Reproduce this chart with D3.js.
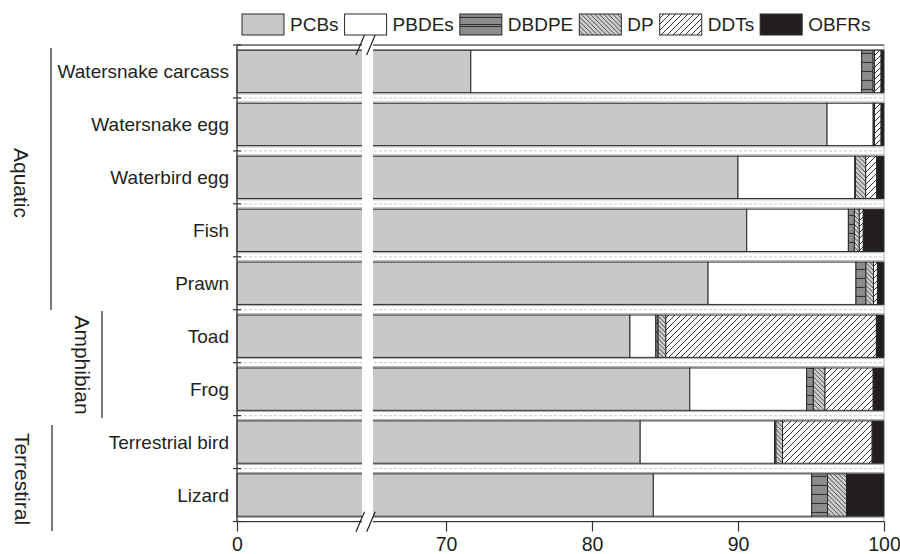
<!DOCTYPE html>
<html>
<head>
<meta charset="utf-8">
<script src="https://cdn.jsdelivr.net/npm/d3@7"></script>
<style>
  body { margin: 0; background: #fff; }
  svg { display: block; font-family: "Liberation Sans", Arial, sans-serif; }
</style>
</head>
<body>
<div class="stage"></div>
<script>
// chart size
var width = 900;
var height = 554;

// data (percent of total)
var categories = ['Watersnake carcass', 'Watersnake egg', 'Waterbird egg', 'Fish', 'Prawn',
                  'Toad', 'Frog', 'Terrestrial bird', 'Lizard'];
var keys   = ['PCBs', 'PBDEs', 'DBDPE', 'DP', 'DDTs', 'OBFRs'];
var pcbs   = [71.7, 96.1, 90.0, 90.6, 87.95, 82.6, 86.7, 83.3, 84.2];
var pbdes  = [26.77, 3.16, 8.0, 6.96, 10.13, 1.77, 8.0, 9.2, 10.85];
var dbdpe  = [0.78, 0.04, 0.05, 0.41, 0.68, 0.16, 0.46, 0.1, 1.08];
var dp     = [0.1, 0.05, 0.7, 0.34, 0.52, 0.53, 0.8, 0.45, 1.3];
var ddts   = [0.45, 0.45, 0.75, 0.27, 0.27, 14.42, 3.3, 6.14, 0];
var obfrs  = [0.2, 0.2, 0.5, 1.42, 0.45, 0.52, 0.73, 0.8, 2.57];
var xTicks = [0, 70, 80, 90, 100];
var groups = [
  {name: 'Aquatic',     lineX: 51,  textX: 14, textY: 183, y0: 48,  y1: 310},
  {name: 'Amphibian',   lineX: 102, textX: 75, textY: 365, y0: 311, y1: 418},
  {name: 'Terrestiral', lineX: 52,  textX: 15, textY: 479, y0: 425, y1: 531}
];

var rows = categories.map(function(c, i) {
  return {cat: c, PCBs: pcbs[i], PBDEs: pbdes[i], DBDPE: dbdpe[i], DP: dp[i], DDTs: ddts[i], OBFRs: obfrs[i]};
});

// broken axis: 0..65 squeezed on the left, 65..100 on the right
var x = d3.scaleLinear()
  .domain([0, 65, 65, 100])
  .range([237, 362, 373, 884]);

var y = d3.scaleBand()
  .domain(categories)
  .range([45, 521.5])
  .paddingInner(0.2)
  .paddingOuter(0.1);

var svg = d3.select('.stage')
  .append('svg')
  .attr('width', width)
  .attr('height', height);

// patterns
var defs = svg.append('defs');
var pDb = defs.append('pattern').attr('id', 'pat-dbdpe')
  .attr('patternUnits', 'userSpaceOnUse').attr('width', 8).attr('height', 9);
pDb.append('rect').attr('width', 8).attr('height', 9).attr('fill', '#8c8c8c');
pDb.append('line').attr('x1', 0).attr('x2', 8).attr('y1', 8.5).attr('y2', 8.5)
  .attr('stroke', '#333').attr('stroke-width', 1.2);

var pDp = defs.append('pattern').attr('id', 'pat-dp')
  .attr('patternUnits', 'userSpaceOnUse').attr('width', 4.5).attr('height', 4.5);
pDp.append('rect').attr('width', 4.5).attr('height', 4.5).attr('fill', '#d0d0d0');
pDp.append('path').attr('d', 'M-1,-1L5.5,5.5M-1,3.5L1,5.5M3.5,-1L5.5,1')
  .attr('stroke', '#333').attr('stroke-width', 0.9);

var pDdt = defs.append('pattern').attr('id', 'pat-ddt')
  .attr('patternUnits', 'userSpaceOnUse').attr('width', 6).attr('height', 6);
pDdt.append('rect').attr('width', 6).attr('height', 6).attr('fill', '#fff');
pDdt.append('path').attr('d', 'M-1,7L7,-1M-1,1L1,-1M5,7L7,5')
  .attr('stroke', '#333').attr('stroke-width', 1);

var fills = {
  PCBs: '#c8c8c9',
  PBDEs: '#ffffff',
  DBDPE: 'url(#pat-dbdpe)',
  DP: 'url(#pat-dp)',
  DDTs: 'url(#pat-ddt)',
  OBFRs: '#231f20'
};

// separator strips between the rows
var step = y.step();
var bounds = d3.range(categories.length + 1).map(function(i) { return 45 + i * step; });
svg.append('g').selectAll('rect')
  .data(bounds)
  .enter()
  .append('rect')
  .attr('x', 237)
  .attr('y', function(d, i) { return i === 0 ? 45 : d - 4; })
  .attr('width', 884 - 237)
  .attr('height', function(d, i) { return (i === 0 || i === bounds.length - 1) ? 4.5 : 8; })
  .attr('fill', '#fff')
  .attr('stroke', '#9a9a9a')
  .attr('stroke-width', 0.8);
svg.append('g').selectAll('line')
  .data(bounds.slice(1, -1))
  .enter()
  .append('line')
  .attr('x1', 239).attr('x2', 882)
  .attr('y1', function(d) { return d; })
  .attr('y2', function(d) { return d; })
  .attr('stroke', '#d4d4d4')
  .attr('stroke-width', 1.2)
  .attr('stroke-dasharray', '3,2');

// stacked bars
var series = d3.stack().keys(keys)(rows);
svg.append('g').selectAll('g')
  .data(series)
  .enter()
  .append('g')
  .attr('fill', function(d) { return fills[d.key]; })
  .selectAll('rect')
  .data(function(d) { return d.filter(function(s) { return s[1] - s[0] > 0; }); })
  .enter()
  .append('rect')
  .attr('x', function(d) { return x(d[0]); })
  .attr('y', function(d) { return y(d.data.cat); })
  .attr('width', function(d) { return x(d[1]) - x(d[0]); })
  .attr('height', y.bandwidth())
  .attr('stroke', '#2a2a2a')
  .attr('stroke-width', 1);

// frame lines
svg.append('line').attr('x1', 237).attr('x2', 884).attr('y1', 45).attr('y2', 45)
  .attr('stroke', '#333').attr('stroke-width', 1.2);
svg.append('line').attr('x1', 237).attr('x2', 237).attr('y1', 45).attr('y2', 521.5)
  .attr('stroke', '#333').attr('stroke-width', 1.2);
svg.append('line').attr('x1', 237).attr('x2', 884).attr('y1', 521.5).attr('y2', 521.5)
  .attr('stroke', '#333').attr('stroke-width', 1.2);
svg.append('g').selectAll('line')
  .data(bounds)
  .enter()
  .append('line')
  .attr('x1', 233).attr('x2', 241)
  .attr('y1', function(d) { return d; })
  .attr('y2', function(d) { return d; })
  .attr('stroke', '#333').attr('stroke-width', 1.2);

// bottom axis
var xAxis = svg.append('g')
  .attr('transform', 'translate(0,521.5)')
  .call(d3.axisBottom(x).tickValues(xTicks).tickSize(10).tickPadding(6));
xAxis.select('.domain').remove();
xAxis.selectAll('line').attr('stroke', '#333').attr('stroke-width', 1.2);
xAxis.selectAll('text')
  .attr('fill', '#231f20')
  .style('font-size', '19.5px')
  .style('font-family', '"Liberation Sans", Arial, sans-serif');

// the axis break
svg.append('rect')
  .attr('x', 362).attr('y', 40).attr('width', 11).attr('height', 484)
  .attr('fill', '#fff');
[35, 511.7].forEach(function(top) {
  [356, 366.7].forEach(function(x0) {
    svg.append('line')
      .attr('x1', x0).attr('y1', top + 20)
      .attr('x2', x0 + 8.5).attr('y2', top)
      .attr('stroke', '#231f20').attr('stroke-width', 1.2);
  });
});

// category labels
svg.append('g').selectAll('text')
  .data(categories)
  .enter()
  .append('text')
  .attr('x', 229)
  .attr('y', function(d) { return y(d) + y.bandwidth() / 2; })
  .attr('dy', '0.35em')
  .attr('text-anchor', 'end')
  .attr('fill', '#231f20')
  .style('font-size', '19px')
  .text(function(d) { return d; });

// group brackets and labels
var gGroups = svg.append('g');
gGroups.selectAll('line')
  .data(groups)
  .enter()
  .append('line')
  .attr('x1', function(d) { return d.lineX; })
  .attr('x2', function(d) { return d.lineX; })
  .attr('y1', function(d) { return d.y0; })
  .attr('y2', function(d) { return d.y1; })
  .attr('stroke', '#231f20').attr('stroke-width', 1.2);
gGroups.selectAll('text')
  .data(groups)
  .enter()
  .append('text')
  .attr('transform', function(d) {
    return 'translate(' + d.textX + ',' + d.textY + ') rotate(90)';
  })
  .attr('text-anchor', 'middle')
  .attr('fill', '#231f20')
  .style('font-size', '21px')
  .text(function(d) { return d.name; });

// legend
var legend = svg.append('g');
var lx = 242;
keys.forEach(function(k) {
  legend.append('rect')
    .attr('x', lx).attr('y', 14).attr('width', 42).attr('height', 21)
    .attr('fill', fills[k])
    .attr('stroke', '#2a2a2a').attr('stroke-width', 1);
  if (k === 'DBDPE') {
    legend.append('line')
      .attr('x1', lx).attr('x2', lx + 42).attr('y1', 24.5).attr('y2', 24.5)
      .attr('stroke', '#333').attr('stroke-width', 1.2);
  }
  var t = legend.append('text')
    .attr('x', lx + 48).attr('y', 24.5).attr('dy', '0.35em')
    .attr('fill', '#231f20')
    .style('font-size', '19px')
    .text(k);
  lx += 48 + t.node().getComputedTextLength() + 6;
});
</script>
</body>
</html>
